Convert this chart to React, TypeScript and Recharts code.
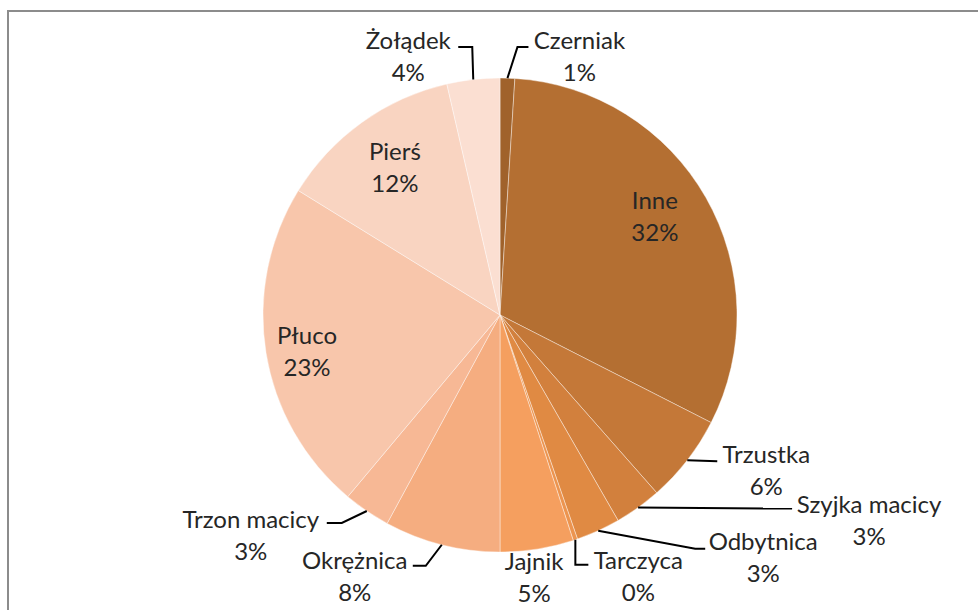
import React from 'react';
import { PieChart, Pie, Cell } from 'recharts';

// slices clockwise from 12 o'clock, shares in percent
const names = [
  'Czerniak', 'Inne', 'Trzustka', 'Szyjka macicy', 'Odbytnica', 'Tarczyca',
  'Jajnik', 'Okrężnica', 'Trzon macicy', 'Płuco', 'Pierś', 'Żołądek',
];
const shares = [1.0, 31.5, 6.0, 3.2, 3.0, 0.3, 5.0, 7.9, 3.2, 22.7, 12.6, 3.6];
const shownPct = ['1%', '32%', '6%', '3%', '3%', '0%', '5%', '8%', '3%', '23%', '12%', '4%'];

const colors = [
  '#a0622b', '#b46f32', '#c47838', '#d2803d', '#e08a43', '#ec944f',
  '#f59f5f', '#f5ad80', '#f7b895', '#f8c6ab', '#f9d4c1', '#fbdfd2',
];

// label placement relative to the point on the rim at the slice's mid angle
// text: block centre offset, leader: elbow points (empty = no leader line)
const labelLayout: { text: [number, number]; leader: [number, number][] }[] = [
  { text: [72, -23], leader: [[10, -31], [21, -31]] },
  { text: [-51, 18], leader: [] },
  { text: [79, 9], leader: [[30, 1]] },
  { text: [231, 12], leader: [[154, 1]] },
  { text: [165, 26], leader: [[97, 18], [107, 18]] },
  { text: [63, 36], leader: [[0, 25], [13, 25]] },
  { text: [-3, 27], leader: [] },
  { text: [-87, 31], leader: [[-16, 21], [-29, 21]] },
  { text: [-116, 23], leader: [[-25, 12], [-40, 12]] },
  { text: [41, -2], leader: [] },
  { text: [33, 44], leader: [] },
  { text: [-65, -24.5], leader: [[-1, -32.5], [-15, -32.5]] },
];

const data = names.map((name, i) => ({ name, value: shares[i], pct: shownPct[i] }));

const RAD = Math.PI / 180;

const renderLabel = (props: any) => {
  const { cx, cy, midAngle, outerRadius, index } = props;
  const px = cx + Math.cos(-midAngle * RAD) * outerRadius;
  const py = cy + Math.sin(-midAngle * RAD) * outerRadius;
  const lay = labelLayout[index];
  const tx = px + lay.text[0];
  const ty = py + lay.text[1];
  const pts = [[px, py], ...lay.leader.map(([dx, dy]) => [px + dx, py + dy])];
  return (
    <g key={`lbl-${index}`}>
      {lay.leader.length > 0 && (
        <polyline
          points={pts.map((p) => p.join(',')).join(' ')}
          fill="none"
          stroke="#000"
          strokeWidth={2}
        />
      )}
      <text
        x={tx}
        y={ty}
        textAnchor="middle"
        fill="#262626"
        style={{ fontFamily: 'Lato, "Open Sans", sans-serif', fontSize: 24 }}
      >
        <tspan x={tx} dy={-16} dominantBaseline="central">{data[index].name}</tspan>
        <tspan x={tx} dy={32} dominantBaseline="central">{data[index].pct}</tspan>
      </text>
    </g>
  );
};

export default function App() {
  return (
    <div style={{ position: 'absolute', left: 0, top: 0, width: 978, height: 610, overflow: 'hidden', background: '#fff' }}>
      <div
        style={{
          position: 'absolute',
          left: 7,
          top: 10,
          width: 1100,
          height: 800,
          borderLeft: '2px solid #8c8c8c',
          borderTop: '2px solid #8c8c8c',
        }}
      />
      <div style={{ position: 'absolute', left: 0, top: 0 }}>
        <PieChart width={978} height={610} margin={{ top: 0, right: 0, bottom: 0, left: 0 }}>
          <Pie
            data={data}
            dataKey="value"
            nameKey="name"
            cx={500}
            cy={315}
            outerRadius={237}
            startAngle={90}
            endAngle={-270}
            stroke="#ffffff"
            strokeOpacity={0.4}
            strokeWidth={1}
            label={renderLabel}
            labelLine={false}
            isAnimationActive={false}
          >
            {data.map((d, i) => (
              <Cell key={d.name} fill={colors[i]} />
            ))}
          </Pie>
        </PieChart>
      </div>
    </div>
  );
}
